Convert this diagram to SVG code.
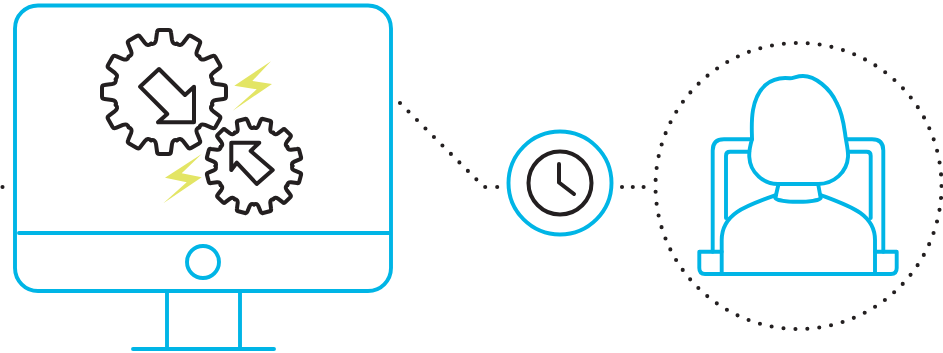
<svg xmlns="http://www.w3.org/2000/svg" xmlns:xlink="http://www.w3.org/1999/xlink" width="943" height="353" viewBox="0 0 943 353">
<style>
.b{fill:none;stroke:#00b5e6;stroke-width:3.900;stroke-linecap:round;stroke-linejoin:round}
.k{fill:none;stroke:#231f20;stroke-width:4;stroke-linecap:round;stroke-linejoin:round}
.z{fill:#e3e565}
.d{fill:none;stroke:#231f20;stroke-width:4.100;stroke-linecap:round;stroke-dasharray:0 12}
</style>
<defs>
<path id="tooth" d="M-12.94-48.3C-10-47.5-8.5-49-8-52L-7-59.5Q-6.8-62-4.5-62H4.5Q6.8-62 7-59.5L8-52C8.5-49 10-47.5 12.94-48.3"/>
<g id="gear">
<use xlink:href="#tooth" href="#tooth"/>
<use xlink:href="#tooth" href="#tooth" transform="rotate(30)"/>
<use xlink:href="#tooth" href="#tooth" transform="rotate(60)"/>
<use xlink:href="#tooth" href="#tooth" transform="rotate(90)"/>
<use xlink:href="#tooth" href="#tooth" transform="rotate(120)"/>
<use xlink:href="#tooth" href="#tooth" transform="rotate(150)"/>
<use xlink:href="#tooth" href="#tooth" transform="rotate(180)"/>
<use xlink:href="#tooth" href="#tooth" transform="rotate(210)"/>
<use xlink:href="#tooth" href="#tooth" transform="rotate(240)"/>
<use xlink:href="#tooth" href="#tooth" transform="rotate(270)"/>
<use xlink:href="#tooth" href="#tooth" transform="rotate(300)"/>
<use xlink:href="#tooth" href="#tooth" transform="rotate(330)"/>
</g>
</defs>
<g id="connectors">
<path class="d" d="M2.500 187H3"/>
<path class="d" d="M400 103L484 187L498 187"/>
<path class="d" d="M622 187H646" style="stroke-dasharray:0 10.800"/>
</g>
<g id="monitor">
<rect class="b" x="15" y="5.500" width="376" height="285.500" rx="23"/>
<path class="b" d="M19 233H390M167 291V349M240 291V349M133 349H274"/>
<circle class="b" cx="203" cy="262" r="16"/>
</g>
<g id="gears">
<use xlink:href="#gear" href="#gear" class="k" transform="translate(164 92)"/>
<use xlink:href="#gear" href="#gear" class="k" style="stroke-width:5.200" transform="translate(254 166) rotate(15) scale(.77)"/>
<path class="k" d="M159 69L140 86.700L167.300 114L158 122.300H194V86.700L185 95Z"/>
<path class="k" d="M231.300 142.700H259.300L250.700 151L272.700 170L256.700 184L236.700 162.700L231.300 170Z"/>
<path class="z" d="M271 61.300L234.300 85.700L256.700 89.300L232.700 110.700L272 84L252.300 81Z"/>
<path class="z" d="M201.700 154L165 177.700L186.700 182.300L163.300 203.300L201.700 177.300L181.700 173.300Z"/>
</g>
<g id="clock">
<circle class="b" cx="560" cy="183" r="51.500"/>
<circle class="k" cx="560" cy="183" r="31.500"/>
<path class="k" d="M559 164V182.500L574 194"/>
</g>
<g id="person">
<circle class="d" cx="798.500" cy="186" r="143" style="stroke-dasharray:0 11.980"/>
<path class="b" d="M752 139.300H724Q712.700 139.300 712.700 150.500V251.700M847.300 139.300H872Q883.300 139.300 883.300 150.500V251.700"/>
<path class="b" d="M749.300 151.700H730Q726 151.700 726 155.700V218M849.300 151.700H866.700Q870.700 151.700 870.700 155.700V218"/>
<path class="b" d="M721.700 251.700H699.300V268Q699.300 274 705 274H721.700M875 251.700H896.700V268Q896.700 274 891 274H875"/>
<path class="b" d="M776 195C745 206 721.700 214 721.700 240V274H875V240C875 214 850 206 820.700 195"/>
<path class="b" d="M778.300 185L775.300 198C778 203 818 203 820.700 198L818.300 185"/>
<path class="b" d="M790 78.300C770 76 757 88 753 110C751 122 752 132 752 139.300C750 146 749 152 749.300 157C750 173 764 184 778 184H818C834 184 847 172 848 157C848.500 150 846 142 845 133C843 118 840 109 836.700 103C830 88 815 76 803 76C797 76 794 78 790 78.300Z"/>
</g>
</svg>
